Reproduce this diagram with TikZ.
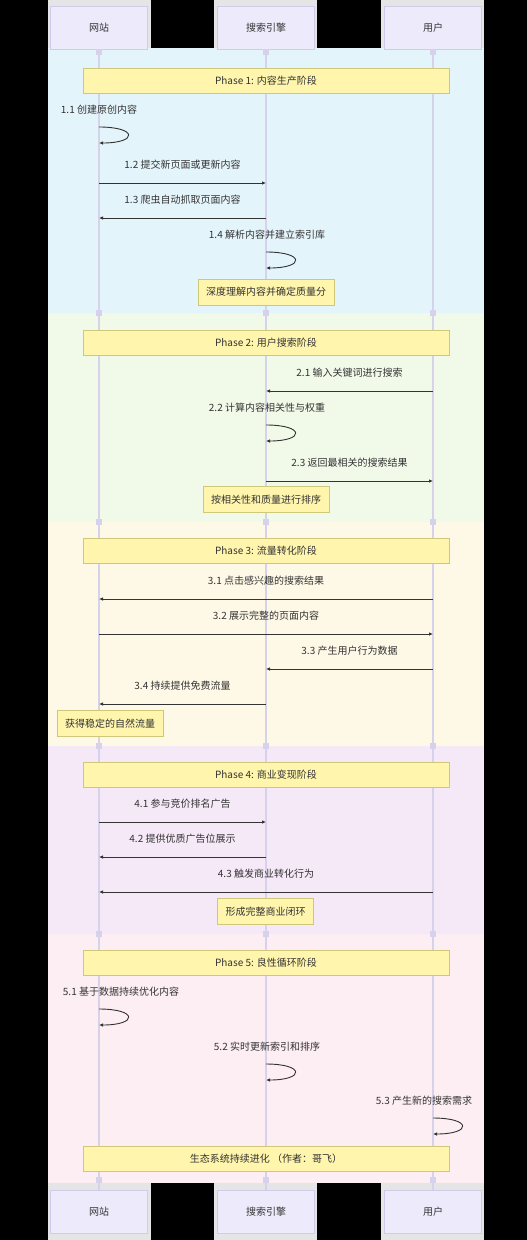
\documentclass[tikz,border=0pt]{standalone}
\usepackage{fontspec}
\setmainfont{Noto Sans CJK SC}
\usetikzlibrary{arrows.meta,positioning}

\definecolor{bgA}{HTML}{E4F4FB}
\definecolor{bgB}{HTML}{F1F9E9}
\definecolor{bgC}{HTML}{FEF8E6}
\definecolor{bgD}{HTML}{F5E8F7}
\definecolor{bgE}{HTML}{FDEEF3}
\definecolor{strip}{HTML}{E5E5E5}
\definecolor{actfill}{HTML}{EDEBFB}
\definecolor{actdraw}{HTML}{CFCBEA}
\definecolor{lifecol}{HTML}{D6D2EC}
\definecolor{notefill}{HTML}{FFF5AD}
\definecolor{notedraw}{HTML}{CFC87A}
\definecolor{msgcol}{HTML}{333333}
\definecolor{txt}{HTML}{333333}

\begin{document}
\begin{tikzpicture}[x=1pt,y=-1pt,font=\fontsize{10}{12}\selectfont,
  actor/.style={draw=actdraw,line width=1pt,fill=actfill,minimum width=97pt,minimum height=43pt,text=txt},
  phase/.style={draw=notedraw,line width=0.8pt,fill=notefill,minimum width=366pt,minimum height=25pt,text=txt},
  notebox/.style={draw=notedraw,line width=0.8pt,fill=notefill,minimum height=26pt,inner xsep=8pt,text=txt},
  markbox/.style={fill=lifecol,minimum size=6pt,inner sep=0pt},
  msg/.style={draw=msgcol,line width=0.9pt,-{Latex[length=4pt,width=3.5pt]}},
  lbl/.style={text=txt,inner sep=1pt},
  lifeline/.style={draw=lifecol,line width=1.2pt}]

\fill[black] (0,0) rectangle (527,1240);
\useasboundingbox (0,0) rectangle (527,1240);

\foreach \x in {48,214,381} {
  \fill[strip] (\x,0) rectangle ++(103,49);
  \fill[strip] (\x,1183) rectangle ++(103,57);
}
\foreach \ya/\yb/\col in {48/313/bgA,313/522/bgB,522/746/bgC,746/934/bgD,934/1183/bgE}
  \fill[\col] (48,\ya) rectangle (484,\yb);

\foreach \n/\x/\t in {ws/99/网站,se/266/搜索引擎,us/433/用户} {
  \node[actor] (\n) at (\x,27.5) {\t};
  \node[actor] (b\n) at (\x,1211.5) {\t};
}

\foreach \n in {ws,se,us} {
  \draw[lifeline] (\n.south) -- (b\n.north);
  \foreach \yy in {52,313,522,746,934,1180}
    \path (\n |- 0,\yy) node[markbox] (k\n\yy) {};
}

\def\msgs{ws/se/183/{1.2 提交新页面或更新内容},
se/ws/218/{1.3 爬虫自动抓取页面内容},
us/se/391/{2.1 输入关键词进行搜索},
se/us/481/{2.3 返回最相关的搜索结果},
us/ws/599/{3.1 点击感兴趣的搜索结果},
ws/us/634/{3.2 展示完整的页面内容},
us/se/669/{3.3 产生用户行为数据},
se/ws/704/{3.4 持续提供免费流量},
ws/se/822/{4.1 参与竞价排名广告},
se/ws/857/{4.2 提供优质广告位展示},
us/ws/892/{4.3 触发商业转化行为}}
\foreach \a/\b/\yy/\txt [count=\i] in \msgs
  \draw[msg] (\a |- 0,\yy) -- node[lbl,yshift=18pt] (m\i) {\txt} (\b |- 0,\yy);

\def\selfs{ws/127/99/{1.1 创建原创内容},
se/252/267/{1.4 解析内容并建立索引库},
se/425/267/{2.2 计算内容相关性与权重},
ws/1009/121/{5.1 基于数据持续优化内容},
se/1064/267/{5.2 实时更新索引和排序},
us/1118/424/{5.3 产生新的搜索需求}}
\foreach \a/\yy/\lx/\txt [count=\i] in \selfs {
  \node[lbl] (s\i) at (\lx,\yy-17) {\txt};
  \draw[msg] (\a |- 0,\yy) .. controls +(39,0) and +(39,0) .. (\a |- 0,\yy+16);
}

\foreach \yy/\txt [count=\i] in {80.5/{Phase 1: 内容生产阶段},343/{Phase 2: 用户搜索阶段},
  550.5/{Phase 3: 流量转化阶段},774.5/{Phase 4: 商业变现阶段},963/{Phase 5: 良性循环阶段}}
  \node[phase] (p\i) at (266,\yy) {\txt};

\node[notebox] (n1) at (266,292) {深度理解内容并确定质量分};
\node[notebox] (n2) at (266,499.5) {按相关性和质量进行排序};
\node[notebox] (n3) at (110,723.5) {获得稳定的自然流量};
\node[notebox] (n4) at (265.5,911.5) {形成完整商业闭环};
\node[phase] (n5) at (266,1158.5) {生态系统持续进化 （作者：哥飞）};

\end{tikzpicture}
\end{document}
